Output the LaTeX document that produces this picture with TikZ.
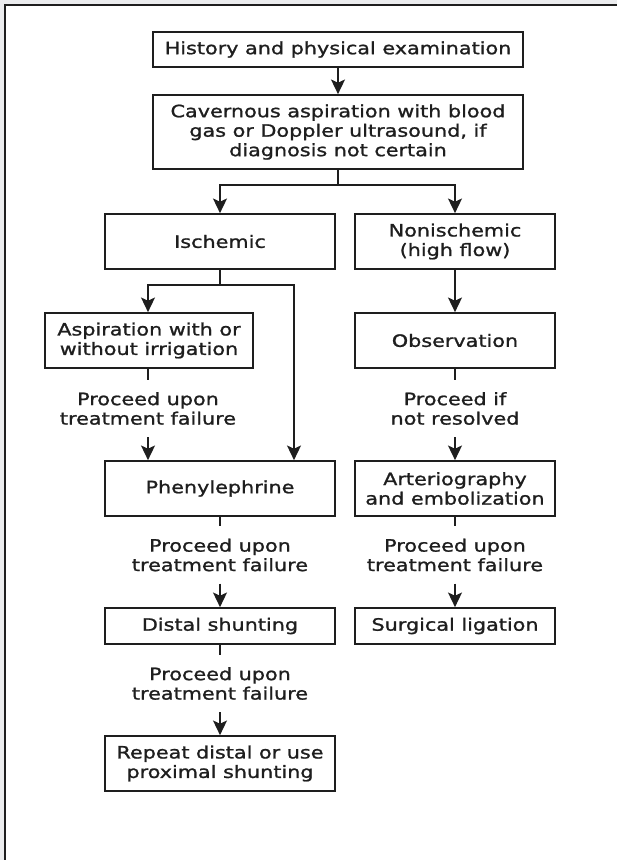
\documentclass[tikz,border=0pt]{standalone}
\usepackage{fontspec}
\setmainfont[FakeStretch=1.22, FakeBold=1.2]{DejaVu Sans}
\usetikzlibrary{arrows.meta}
\definecolor{ink}{HTML}{1E1E1E}
\definecolor{bgray}{HTML}{EBECEE}
\tikzset{
  box/.style={draw=ink, line width=1.3pt, inner sep=0pt, align=center, text=ink,
    font=\fontsize{12.75}{14.6}\selectfont},
  lbl/.style={inner sep=0pt, align=center, text=ink, minimum height=42.5pt,
    font=\fontsize{12.75}{14.6}\selectfont},
  conn/.style={draw=ink, line width=1.2pt},
  arr/.style={conn, -{Stealth[length=11pt, width=10.5pt, inset=2.5pt]}},
}
\begin{document}
\begin{tikzpicture}[x=0.75pt, y=-0.75pt]
\useasboundingbox (0,0) rectangle (617,860);
\fill[bgray] (0,0) rectangle (617,860);
\fill[white] (5,5) rectangle (617,860);
\draw[ink, line width=1.3pt] (5,860) -- (5,5) -- (617,5);

\node[box, minimum width=277.5pt, minimum height=26.25pt] (hist) at (338,49.5) {History and physical examination};
\node[box, minimum width=277.5pt, minimum height=55.5pt] (cav) at (338,132) {Cavernous aspiration with blood\\gas or Doppler ultrasound, if\\diagnosis not certain};
\node[box, minimum width=172.5pt, minimum height=41.25pt] (isch) at (220,241.5) {Ischemic};
\node[box, minimum width=150pt, minimum height=41.25pt] (nonisch) at (455,241.5) {Nonischemic\\(high flow)};
\node[box, minimum width=156pt, minimum height=41.25pt] (asp) at (149,340.5) {Aspiration with or\\without irrigation};
\node[box, minimum width=150pt, minimum height=41.25pt] (obs) at (455,340.5) {Observation};
\node[box, minimum width=172.5pt, minimum height=41.25pt] (phen) at (220,488.5) {Phenylephrine};
\node[box, minimum width=150pt, minimum height=41.25pt] (art) at (455,488.5) {Arteriography\\and embolization};
\node[box, minimum width=172.5pt, minimum height=27pt] (distal) at (220,626) {Distal shunting};
\node[box, minimum width=150pt, minimum height=27pt] (surg) at (455,626) {Surgical ligation};
\node[box, minimum width=172.5pt, minimum height=41.25pt] (rep) at (220,763.5) {Repeat distal or use\\proximal shunting};

\node[lbl] (t1) at (148,408.5) {Proceed upon\\treatment failure};
\node[lbl] (t2) at (455,408.5) {Proceed if\\not resolved};
\node[lbl] (t3) at (220,555) {Proceed upon\\treatment failure};
\node[lbl] (t4) at (455,555) {Proceed upon\\treatment failure};
\node[lbl] (t5) at (220,683.5) {Proceed upon\\treatment failure};

\coordinate (b1) at (338,185);
\coordinate (b2) at (220,285);
\coordinate (b2r) at (294,285);

\draw[arr] (hist) -- (cav);
\draw[conn] (cav.south) -- (b1);
\draw[arr] (b1) -| (isch.north);
\draw[arr] (b1) -| (nonisch.north);

\draw[conn] (isch.south) -- (b2);
\draw[arr] (b2) -| (t1.north |- asp.north);
\draw[arr] (b2) -- (b2r) -- (b2r |- phen.north);
\draw[conn] (asp.south -| t1.north) -- (t1.north);
\draw[arr] (t1.south) -- (t1.south |- phen.north);

\draw[arr] (nonisch) -- (obs);
\draw[conn] (obs) -- (t2);
\draw[arr] (t2) -- (art);

\draw[conn] (phen) -- (t3);
\draw[arr] (t3) -- (distal);
\draw[conn] (art) -- (t4);
\draw[arr] (t4) -- (surg);
\draw[conn] (distal) -- (t5);
\draw[arr] (t5) -- (rep);
\end{tikzpicture}
\end{document}
